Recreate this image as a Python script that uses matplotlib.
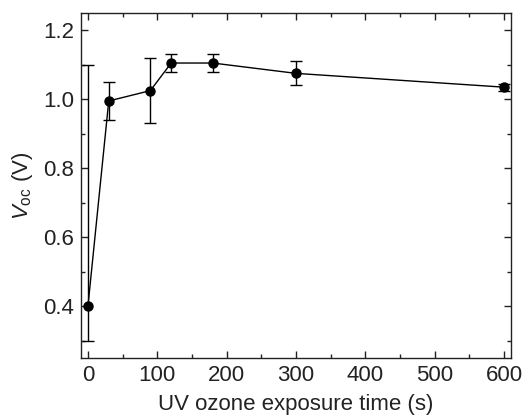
import matplotlib
matplotlib.use('Agg')
import matplotlib.pyplot as plt
from matplotlib.ticker import MultipleLocator

plt.rcParams['font.family'] = ['Liberation Sans', 'DejaVu Sans']
plt.rcParams['font.size'] = 16
plt.rcParams['mathtext.fontset'] = 'custom'
plt.rcParams['mathtext.rm'] = 'Liberation Sans'
plt.rcParams['mathtext.it'] = 'Liberation Sans:italic'

# 데이터
time_s = [0, 30, 90, 120, 180, 300, 600]
voc = [0.40, 0.995, 1.025, 1.105, 1.105, 1.075, 1.035]
err_low = [0.10, 0.055, 0.095, 0.025, 0.025, 0.035, 0.01]
err_high = [0.70, 0.055, 0.095, 0.025, 0.025, 0.035, 0.01]

fig = plt.figure(figsize=(5.22, 4.18), dpi=100)
ax = fig.add_axes([81/522, 1 - 358/418, (511-81)/522, (358-13)/418])

ax.errorbar(time_s, voc, yerr=[err_low, err_high], color='black', marker='o', markersize=6.5,
            linewidth=1, elinewidth=1, capsize=4.5, capthick=1)

ax.set_xlim(-10, 610)
ax.set_ylim(0.25, 1.25)
ax.xaxis.set_major_locator(MultipleLocator(100))
ax.xaxis.set_minor_locator(MultipleLocator(50))
ax.yaxis.set_major_locator(MultipleLocator(0.2))
ax.yaxis.set_minor_locator(MultipleLocator(0.1))
ax.yaxis.set_major_formatter(plt.FormatStrFormatter('%.1f'))
ax.tick_params(which='both', direction='in', top=True, right=True, width=1, colors='#222222')
ax.tick_params(which='major', length=5, pad=5)
ax.tick_params(which='minor', length=3)
for s in ax.spines.values():
    s.set_linewidth(1)
    s.set_color('#222222')

ax.set_xlabel('UV ozone exposure time (s)', labelpad=6, color='#222222')
ax.set_ylabel(r'$V_{\mathrm{oc}}$ (V)', labelpad=6, color='#222222')

fig.savefig('out.png', dpi=100)
